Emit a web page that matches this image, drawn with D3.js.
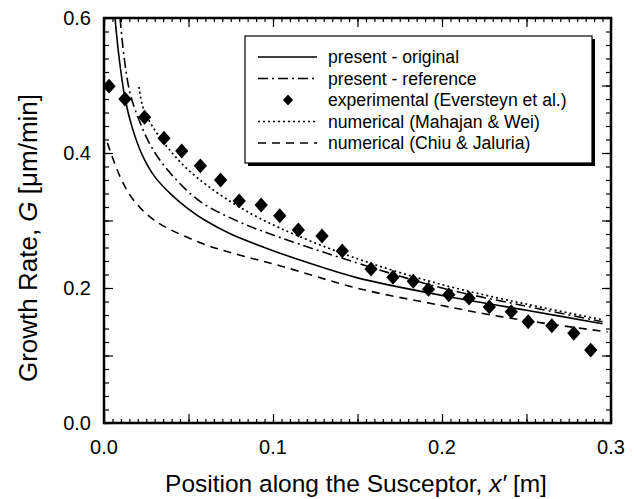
<!DOCTYPE html>
<html><head><meta charset="utf-8">
<script src="https://cdn.jsdelivr.net/npm/d3@7"></script>
<style>
html,body{margin:0;padding:0;background:#fff;}
text{font-family:Arial,"Liberation Sans",sans-serif;fill:#000;}
</style></head>
<body>
<svg id="chart" width="634" height="499"></svg>
<script>
// ---- data ----
const xTicks = [0.0, 0.1, 0.2, 0.3];
const yTicks = [0.0, 0.2, 0.4, 0.6];
const xTickLabels = ["0.0", "0.1", "0.2", "0.3"];
const yTickLabels = ["0.0", "0.2", "0.4", "0.6"];
const legendLabels = ["present - original", "present - reference", "experimental (Eversteyn et al.)", "numerical (Mahajan & Wei)", "numerical (Chiu & Jaluria)"];

const presentOriginalX = [0.0065, 0.009, 0.0125, 0.017, 0.023, 0.03, 0.04, 0.05, 0.06, 0.075, 0.096, 0.12, 0.15, 0.2, 0.25, 0.295];
const presentOriginalY = [0.60, 0.54, 0.48, 0.435, 0.395, 0.365, 0.338, 0.317, 0.300, 0.280, 0.259, 0.238, 0.215, 0.189, 0.167, 0.147];

const presentReferenceX = [0.0095, 0.012, 0.0154, 0.021, 0.029, 0.04, 0.057, 0.08, 0.104, 0.15, 0.2, 0.25, 0.295];
const presentReferenceY = [0.60, 0.54, 0.489, 0.447, 0.405, 0.368, 0.328, 0.298, 0.275, 0.237, 0.200, 0.173, 0.150];

const experimentalX = [0.003, 0.0124, 0.024, 0.0355, 0.046, 0.057, 0.069, 0.080, 0.093, 0.104, 0.115, 0.129, 0.141, 0.158, 0.171, 0.183, 0.192, 0.204, 0.216, 0.228, 0.241, 0.251, 0.265, 0.278, 0.288];
const experimentalY = [0.499, 0.480, 0.453, 0.422, 0.403, 0.381, 0.360, 0.329, 0.323, 0.307, 0.286, 0.277, 0.255, 0.228, 0.216, 0.210, 0.198, 0.190, 0.185, 0.172, 0.165, 0.150, 0.144, 0.133, 0.108];

const mahajanX = [0.0207, 0.023, 0.029, 0.039, 0.049, 0.061, 0.08, 0.104, 0.148, 0.2, 0.25, 0.295];
const mahajanY = [0.498, 0.468, 0.438, 0.404, 0.377, 0.352, 0.320, 0.289, 0.245, 0.205, 0.176, 0.153];

const chiuX = [0.002, 0.0095, 0.017, 0.03, 0.057, 0.08, 0.104, 0.151, 0.2, 0.229, 0.26, 0.298];
const chiuY = [0.415, 0.365, 0.332, 0.300, 0.267, 0.249, 0.233, 0.199, 0.174, 0.160, 0.148, 0.135];

// ---- layout ----
const svg = d3.select("#chart");
const L = 104, R = 611, T = 18, B = 423;
const x = d3.scaleLinear().domain([0, 0.3]).range([L, R]);
const y = d3.scaleLinear().domain([0, 0.6]).range([B, T]);

const zip = (xs, ys) => xs.map((v, i) => [v, ys[i]]);
const line = d3.line().x(d => x(d[0])).y(d => y(d[1])).curve(d3.curveCatmullRom.alpha(0.5));

svg.append("defs").append("clipPath").attr("id", "clip")
  .append("rect").attr("x", L).attr("y", T).attr("width", R - L).attr("height", B - T);
const g = svg.append("g").attr("clip-path", "url(#clip)");

const styles = {
  orig: {dash: null, w: 1.6},
  ref: {dash: "10,4,2,4", w: 1.6},
  mah: {dash: "2,3", w: 1.7},
  chiu: {dash: "8,6", w: 1.6}
};

function drawCurve(xs, ys, st) {
  g.append("path").datum(zip(xs, ys)).attr("d", line)
    .attr("fill", "none").attr("stroke", "#000").attr("stroke-width", st.w)
    .attr("stroke-dasharray", st.dash);
}
drawCurve(chiuX, chiuY, styles.chiu);
drawCurve(mahajanX, mahajanY, styles.mah);
drawCurve(presentReferenceX, presentReferenceY, styles.ref);
drawCurve(presentOriginalX, presentOriginalY, styles.orig);

const diamond = d3.symbol().type(d3.symbolSquare).size(88);
g.selectAll(".pt").data(zip(experimentalX, experimentalY)).join("path")
  .attr("class", "pt")
  .attr("d", diamond)
  .attr("transform", d => `translate(${x(d[0])},${y(d[1])}) scale(1,1.12) rotate(45)`)
  .attr("fill", "#000");

// ---- axes (ticks inward on all four sides) ----
const xMinor = d3.range(0, 0.3001, 0.005);
const xMajor = d3.range(0, 0.3001, 0.05);
const yMinor = d3.range(0, 0.6001, 0.02);
const yMajor = d3.range(0, 0.6001, 0.1);

function axisGroup(axisFn, scale, ticks, size, tf) {
  const a = axisFn(scale).tickValues(ticks).tickSize(size).tickFormat("");
  const ag = svg.append("g").attr("transform", tf).call(a);
  ag.select(".domain").remove();
  ag.selectAll(".tick line").attr("stroke", "#000").attr("stroke-width", 1.2);
  return ag;
}
axisGroup(d3.axisTop, x, xMinor, 4, `translate(0,${B})`);
axisGroup(d3.axisTop, x, xMajor, 9, `translate(0,${B})`);
axisGroup(d3.axisBottom, x, xMinor, 4, `translate(0,${T})`);
axisGroup(d3.axisBottom, x, xMajor, 9, `translate(0,${T})`);
axisGroup(d3.axisRight, y, yMinor, 5, `translate(${L},0)`);
axisGroup(d3.axisRight, y, yMajor, 9, `translate(${L},0)`);
axisGroup(d3.axisLeft, y, yMinor, 5, `translate(${R},0)`);
axisGroup(d3.axisLeft, y, yMajor, 9, `translate(${R},0)`);

svg.append("rect").attr("x", L).attr("y", T).attr("width", R - L).attr("height", B - T)
  .attr("fill", "none").attr("stroke", "#000").attr("stroke-width", 2.5);

// tick labels
svg.append("g").selectAll("text").data(xTicks).join("text")
  .attr("x", d => x(d)).attr("y", 454).attr("text-anchor", "middle")
  .attr("font-size", 20).text((d, i) => xTickLabels[i]);
svg.append("g").selectAll("text").data(yTicks).join("text")
  .attr("x", 91).attr("y", d => y(d) + 7).attr("text-anchor", "end")
  .attr("font-size", 20).text((d, i) => yTickLabels[i]);

// axis titles
const xt = svg.append("text").attr("x", 356).attr("y", 492).attr("text-anchor", "middle").attr("font-size", 24.5);
xt.append("tspan").text("Position along the Susceptor, ");
xt.append("tspan").attr("font-style", "italic").text("x′");
xt.append("tspan").text(" [m]");

const yt = svg.append("text").attr("transform", "translate(37,238) rotate(-90)").attr("text-anchor", "middle").attr("font-size", 26);
yt.append("tspan").text("Growth Rate,  ");
yt.append("tspan").attr("font-style", "italic").text("G");
yt.append("tspan").text("  [μm/min]");

// ---- legend ----
const lx = 245, ly = 36, lw = 347, lh = 127;
svg.append("rect").attr("x", lx + 3).attr("y", ly + 3).attr("width", lw).attr("height", lh).attr("fill", "#000");
svg.append("rect").attr("x", lx).attr("y", ly).attr("width", lw).attr("height", lh)
  .attr("fill", "#fff").attr("stroke", "#000").attr("stroke-width", 1.2);
const rowY = [57, 78.5, 100, 121.5, 143];
const legendStyles = [styles.orig, styles.ref, null, styles.mah, styles.chiu];
legendLabels.forEach((lab, i) => {
  const yy = rowY[i];
  if (legendStyles[i]) {
    svg.append("line").attr("x1", 258).attr("x2", 317).attr("y1", yy).attr("y2", yy)
      .attr("stroke", "#000").attr("stroke-width", legendStyles[i].w)
      .attr("stroke-dasharray", legendStyles[i].dash);
  } else {
    svg.append("path").attr("d", d3.symbol().type(d3.symbolSquare).size(50)())
      .attr("transform", `translate(288,${yy}) scale(1,1.12) rotate(45)`).attr("fill", "#000");
  }
  svg.append("text").attr("x", 328).attr("y", yy + 6).attr("font-size", 17.6).text(lab);
});
</script>
</body></html>
